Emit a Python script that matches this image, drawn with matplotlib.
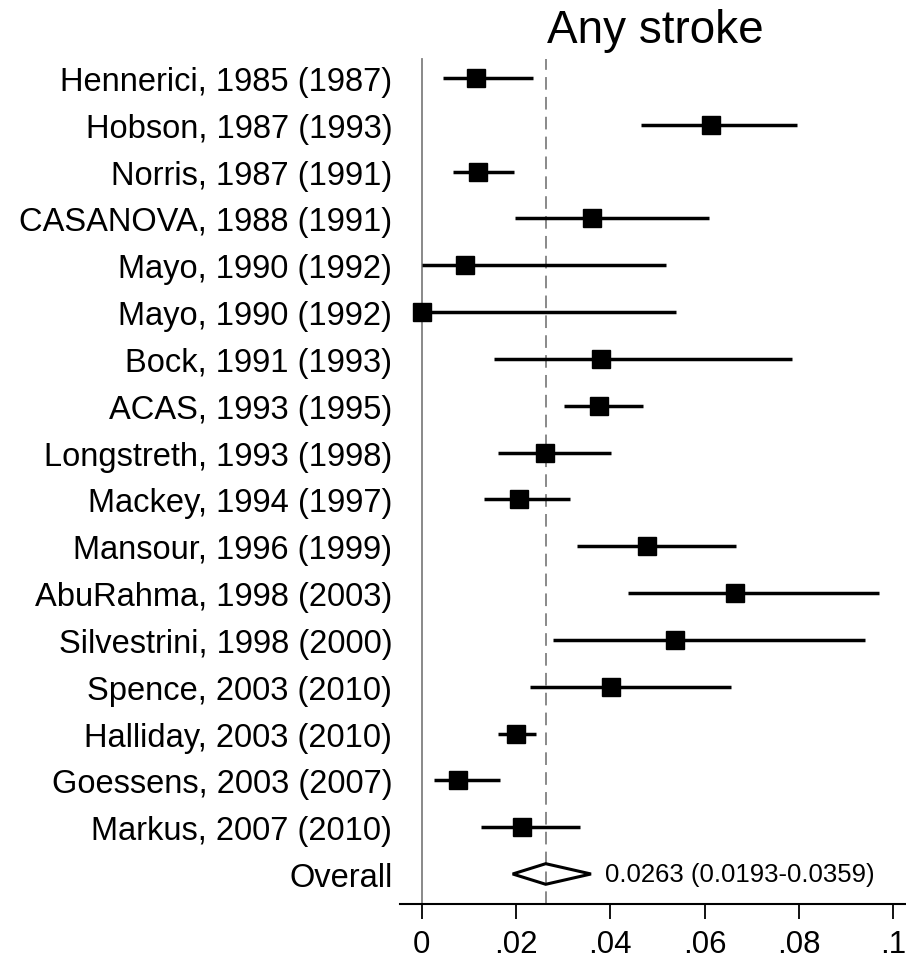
import numpy as np
import matplotlib
matplotlib.use("Agg")
import matplotlib.pyplot as plt
from matplotlib.patches import Polygon

plt.rcParams['font.family'] = ['Liberation Sans', 'DejaVu Sans']

# Study-level estimates (proportion with any stroke) and 95% CIs
studies = [
    "Hennerici, 1985 (1987)", "Hobson, 1987 (1993)", "Norris, 1987 (1991)",
    "CASANOVA, 1988 (1991)", "Mayo, 1990 (1992)", "Mayo, 1990 (1992)",
    "Bock, 1991 (1993)", "ACAS, 1993 (1995)", "Longstreth, 1993 (1998)",
    "Mackey, 1994 (1997)", "Mansour, 1996 (1999)", "AbuRahma, 1998 (2003)",
    "Silvestrini, 1998 (2000)", "Spence, 2003 (2010)", "Halliday, 2003 (2010)",
    "Goessens, 2003 (2007)", "Markus, 2007 (2010)",
]
est = [0.0115, 0.0613, 0.0119, 0.0361, 0.0092, 0.0000, 0.0380, 0.0377, 0.0261,
       0.0207, 0.0477, 0.0664, 0.0538, 0.0402, 0.0199, 0.0076, 0.0213]
lo = [0.0045, 0.0464, 0.0067, 0.0198, 0.0001, 0.0000, 0.0153, 0.0302, 0.0161,
      0.0132, 0.0330, 0.0438, 0.0278, 0.0230, 0.0161, 0.0027, 0.0126]
hi = [0.0236, 0.0796, 0.0196, 0.0610, 0.0518, 0.0539, 0.0786, 0.0469, 0.0401,
      0.0314, 0.0666, 0.0970, 0.0941, 0.0655, 0.0242, 0.0167, 0.0336]

pooled, pooled_lo, pooled_hi = 0.0263, 0.0193, 0.0359
xticks = [0, 0.02, 0.04, 0.06, 0.08, 0.1]
xtick_labels = ["0", ".02", ".04", ".06", ".08", ".1"]

n = len(studies)
ypos = np.arange(n, 0, -1)  # first study on top, overall at y = 0

fig = plt.figure(figsize=(9.06, 9.62), dpi=100)
ax = fig.add_axes([0.4415, 0.0593, 0.5585, 0.9407])

y_top = n + 0.41
ax.plot([0, 0], [-0.64, y_top], color='#808080', lw=1.3, zorder=1)
ax.plot([pooled, pooled], [-0.64, y_top], color='#808080', lw=1.3,
        dashes=(7, 4), zorder=1)

# CIs and point estimates
ax.hlines(ypos, lo, hi, color='black', lw=2.5, zorder=2)
ax.plot(est, ypos, 's', color='black', markersize=12.5, zorder=3)

# Pooled estimate diamond
h = 0.22
diamond = Polygon([[pooled_lo, 0], [pooled, h], [pooled_hi, 0], [pooled, -h]],
                  closed=True, facecolor='none', edgecolor='black', lw=2.2,
                  joinstyle='miter', zorder=3)
ax.add_patch(diamond)
ax.text(pooled_hi + 0.0030, 0, f"{pooled:.4f} ({pooled_lo:.4f}-{pooled_hi:.4f})",
        fontsize=18.5, va='center', ha='left')

ax.set_yticks(list(ypos) + [0])
ax.set_yticklabels(studies + ["Overall"], fontsize=23.5)
ax.tick_params(axis='y', length=0, pad=5.5)

ax.set_xticks(xticks)
ax.set_xticklabels(xtick_labels, fontsize=22.5)
ax.tick_params(axis='x', length=11, width=1.3, pad=7)

ax.set_xlim(-0.0046, 0.1027)
ax.set_ylim(-0.64, n + 79 / 46.8)

for sp in ['top', 'right', 'left']:
    ax.spines[sp].set_visible(False)
ax.spines['bottom'].set_linewidth(1.5)

ax.text(0.0495, n + 1.02, "Any stroke", fontsize=33, ha='center', va='center')

fig.savefig("out.png", dpi=100)
